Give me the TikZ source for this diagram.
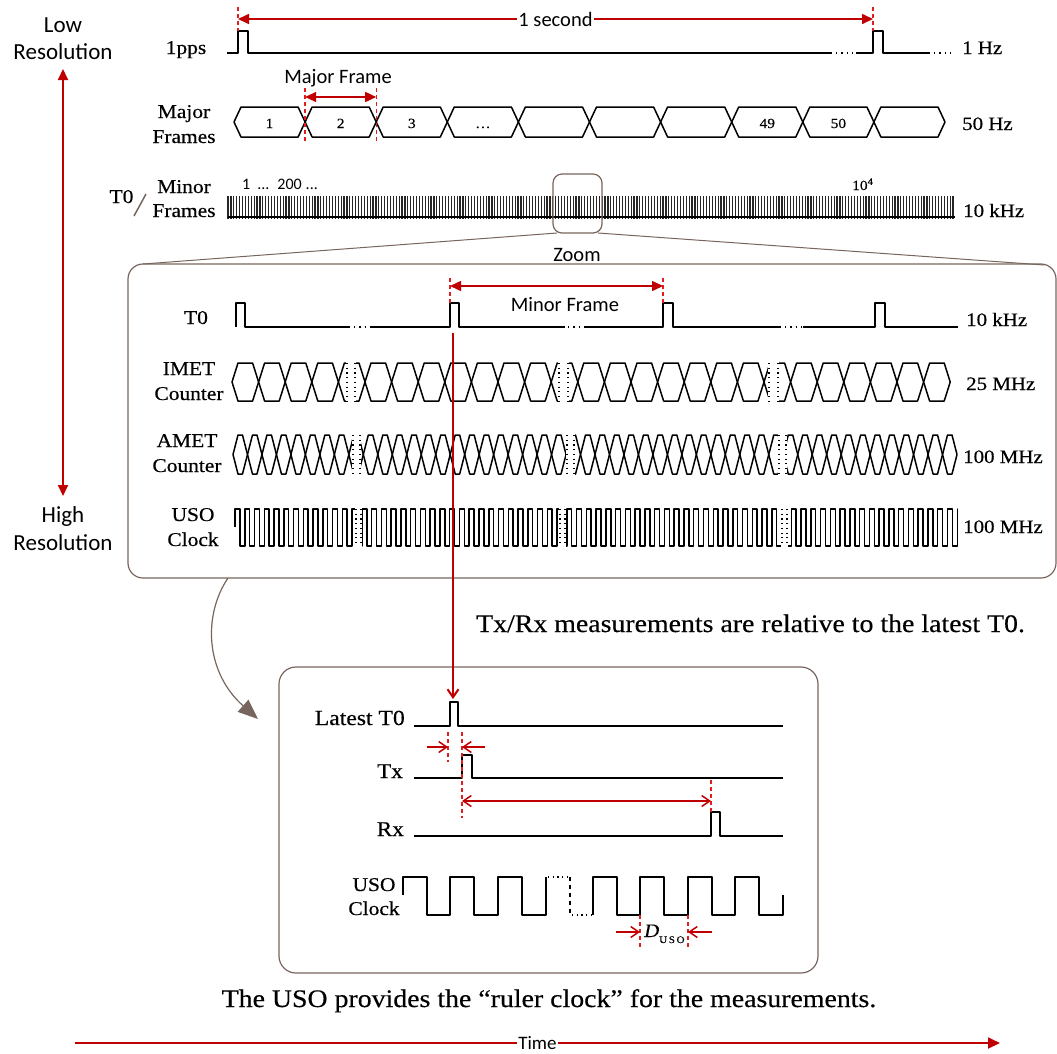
\documentclass[tikz,border=0pt]{standalone}
\usepackage{fontspec}
\setmainfont{Liberation Serif}[FakeStretch=1.1, FakeBold=0.4]
\newfontfamily\sansf{Carlito}
\usetikzlibrary{arrows.meta}
\definecolor{myred}{RGB}{192,0,0}
\definecolor{dred}{RGB}{225,30,30}
\definecolor{brn}{RGB}{120,102,94}
\newcommand{\hexchain}[6]{%
  \pgfmathsetmacro\hmid{(#4+#5)/2}%
  \foreach \i in {1,...,#3}{%
    \pgfmathsetmacro\xa{#1+(\i-1)*#2}%
    \pgfmathsetmacro\xb{#1+\i*#2}%
    \draw[sig] (\xa,\hmid) -- (\xa+#6,#4) -- (\xb-#6,#4) -- (\xb,\hmid) -- (\xb-#6,#5) -- (\xa+#6,#5) -- cycle;
  }}
\newcommand{\gapmark}[4]{%
  \fill[white] (#1,#3-3) rectangle (#2,#4+3);
  \draw[brk] (#1+1,#3) -- (#1+1,#4);
  \draw[brk] (#2-1,#3) -- (#2-1,#4);}
\begin{document}
\begin{tikzpicture}[x=1pt,y=-1pt,
  sig/.style={line width=1.5pt, line join=round},
  brk/.style={line width=1.2pt, dash pattern=on 1.2pt off 3.5pt},
  dots/.style={line width=1.3pt, dash pattern=on 1.3pt off 4pt},
  sansl/.style={font=\sansf\fontsize{23}{23}\selectfont, anchor=base, inner sep=0pt},
  sansm/.style={font=\sansf\fontsize{20.5}{20.5}\selectfont, anchor=base, inner sep=0pt},
  lbl/.style={font=\fontsize{19.5}{19.5}\selectfont, anchor=base, inner sep=0pt},
  frq/.style={font=\fontsize{19}{19}\selectfont, anchor=base west, inner sep=0pt},
  cell/.style={font=\fontsize{14}{14}\selectfont, anchor=base, inner sep=0pt},
  big/.style={font=\fontsize{25.3}{25.3}\selectfont, anchor=base, inner sep=0pt},
  redA/.style={draw=myred, line width=1.6pt, arrows={Triangle[length=11pt,width=10pt]-Triangle[length=11pt,width=10pt]}},
  redT/.style={draw=myred, line width=1.8pt, arrows={-Triangle[length=12pt,width=11pt]}},
  barb/.style={draw=myred, line width=1.5pt, arrows={-Straight Barb[length=8pt,width=11pt]}},
  barb2/.style={draw=myred, line width=1.5pt, arrows={Straight Barb[length=8pt,width=11pt]-Straight Barb[length=8pt,width=11pt]}},
  dsh/.style={draw=dred, line width=1.3pt, dash pattern=on 4pt off 3pt},
  frame/.style={draw=brn, line width=1.2pt}]
\useasboundingbox (0,0) rectangle (1057,1053);

% ---------- resolution axis ----------
\node[sansl] (lowA) at (63,32) {Low};
\node[sansl] (lowB) at (63,59) {Resolution};
\node[sansl] (highA) at (63,522) {High};
\node[sansl] (highB) at (63,550) {Resolution};
\coordinate (resTop) at (63,69);
\coordinate (resBot) at (63,496);
\draw[redA, line width=2pt] (resTop) -- (resBot);

% ---------- 1pps ----------
\node[lbl] (pps) at (186,54) {1pps};
\draw[sig] (227,53) -- (238,53) -- (238,31) -- (248,31) -- (248,53) -- (832,53);
\draw[dots] (836,53) -- (852,53);
\draw[sig] (856,53) -- (873,53) -- (873,31) -- (883,31) -- (883,53) -- (930,53);
\draw[dots] (934,53) -- (952,53);
\node[frq] (hz1) at (962,54) {1 Hz};
\coordinate (secL) at (238,19);
\coordinate (secR) at (873,19);
\draw[dsh] (238,7) -- (238,31);
\draw[dsh] (873,7) -- (873,31);
\draw[redA] (secL) -- (secR) node[pos=0.5, fill=white, inner sep=1pt, font=\sansf\fontsize{20.5}{20.5}\selectfont] (sec) {1 second};

% ---------- major frames ----------
\node[lbl] (majA) at (184,118) {Major};
\node[lbl] (majB) at (184,143) {Frames};
\hexchain{234}{71.1}{10}{107}{137}{7}
\node[cell] (c1) at (269.5,128) {1};
\node[cell] (c2) at (340.7,128) {2};
\node[cell] (c3) at (411.8,128) {3};
\node[cell] (c4) at (482.9,128) {\ldots};
\node[cell] (c49) at (767.3,128) {49};
\node[cell] (c50) at (838.4,128) {50};
\node[frq] (hz50) at (962,130) {50 Hz};
\draw[dsh] (305.1,88) -- (305.1,141);
\draw[dsh] (376.2,88) -- (376.2,141);
\coordinate (mfL) at (305.1,97);
\coordinate (mfR) at (376.2,97);
\draw[redA, line width=1.5pt] (mfL) -- (mfR);
\node[sansm] (mf) at (338,83) {Major Frame};

% ---------- minor frames ----------
\node[lbl] (t0a) at (121.5,203) {T0};
\draw[brn, line width=1.5pt] (134,216) -- (146,194);
\node[lbl] (minA) at (184,193) {Minor};
\node[lbl] (minB) at (184,217) {Frames};
\foreach \i in {0,...,250}{\draw[line width=1.2pt, black!85] ({228+2.9*\i},196) -- ({228+2.9*\i},219);}
\draw[line width=1.3pt] (228,217) -- (955,217);
\node[font=\sansf\fontsize{16}{16}\selectfont, anchor=base west, inner sep=0pt] (nums) at (242,189) {1\hspace{7pt}...\hspace{8pt}200\hspace{4pt}...};
\node[font=\fontsize{14}{14}\selectfont, anchor=base west, inner sep=0pt] (tenf) at (852,190) {10\textsuperscript{4}};
\node[frq] (khz) at (963,217) {10 kHz};
\draw[frame, rounded corners=9pt] (553,174) rectangle (602,233);

% ---------- zoom panel ----------
\coordinate (hlL) at (557,233);
\coordinate (hlR) at (598,233);
\coordinate (zpL) at (143,264);
\coordinate (zpR) at (1044,265);
\draw[brn, line width=1pt] (hlL) -- (zpL);
\draw[brn, line width=1pt] (hlR) -- (zpR);
\draw[frame, rounded corners=15pt] (128,264) rectangle (1056,578);
\node[sansm] (zoom) at (577,261) {Zoom};

% T0 zoomed
\node[lbl] (zt0) at (196,324) {T0};
\draw[sig] (236,327) -- (236,303) -- (245,303) -- (245,327) -- (350,327);
\draw[dots] (354,327) -- (368,327);
\draw[sig] (370,327) -- (450,327) -- (450,303) -- (459,303) -- (459,327) -- (565,327);
\draw[dots] (568,327) -- (582,327);
\draw[sig] (584,327) -- (663,327) -- (663,303) -- (673,303) -- (673,327) -- (781,327);
\draw[dots] (785,327) -- (801,327);
\draw[sig] (803,327) -- (875,327) -- (875,303) -- (885,303) -- (885,327) -- (958,327);
\node[frq] (khz2) at (966,326) {10 kHz};
\draw[dsh] (450,278) -- (450,303);
\draw[dsh] (663,278) -- (663,303);
\coordinate (mnL) at (450,286);
\coordinate (mnR) at (663,286);
\draw[redA, line width=1.5pt] (mnL) -- (mnR);
\node[sansm] (minorf) at (565,311) {Minor Frame};

% IMET
\node[lbl] (imA) at (189,375) {IMET};
\node[lbl] (imB) at (189,400) {Counter};
\hexchain{232}{26.6}{27}{363}{401}{6}
\gapmark{346}{356}{363}{401}
\gapmark{558}{569}{363}{401}
\gapmark{768}{779}{363}{401}
\node[frq] (mhz25) at (966,390) {25 MHz};

% AMET
\node[lbl] (amA) at (187,447) {AMET};
\node[lbl] (amB) at (187,472) {Counter};
\hexchain{233}{14.48}{50}{435}{474}{5}
\gapmark{352}{361}{435}{474}
\gapmark{566}{575}{435}{474}
\gapmark{778}{787}{435}{474}
\node[frq] (mhzA) at (963,463) {100 MHz};

% USO zoomed
\node[lbl] (usA) at (193,521) {USO};
\node[lbl] (usB) at (193,546) {Clock};
\draw[sig] (235,527) -- (235,509) \foreach \i in {1,...,74}{ -- ++(4.88,0) -- ++(0,37) -- ++(4.88,0) -- ++(0,-37)} -- ++(0,18);
\gapmark{355}{362}{509}{546}
\gapmark{559}{566}{509}{546}
\gapmark{781}{788}{509}{546}
\node[frq] (mhzB) at (963,533) {100 MHz};

% ---------- curved arrow and note ----------
\coordinate (cvA) at (228,578);
\coordinate (cvB) at (258,719);
\draw[brn, line width=1.2pt, arrows={-Triangle[length=20pt,width=16pt]}] (cvA) .. controls (203,615) and (205,672) .. (cvB);
\node[big, anchor=base west] (note1) at (476,632) {Tx/Rx measurements are relative to the latest T0.};

% ---------- bottom panel ----------
\draw[frame, rounded corners=17pt] (279,667) rectangle (818,973);
\node[font=\fontsize{21.5}{21.5}\selectfont, anchor=base east, inner sep=0pt] (latest) at (405,725) {Latest T0};
\draw[sig] (414,726) -- (450,726) -- (450,702) -- (458,702) -- (458,726) -- (783,726);
\node[font=\fontsize{21}{21}\selectfont, anchor=base east, inner sep=0pt] (tx) at (403,778) {Tx};
\draw[sig] (414,778) -- (462,778) -- (462,755) -- (472,755) -- (472,778) -- (783,778);
\node[font=\fontsize{21}{21}\selectfont, anchor=base east, inner sep=0pt] (rx) at (404,836) {Rx};
\draw[sig] (414,836) -- (711,836) -- (711,812) -- (720,812) -- (720,836) -- (783,836);
\node[lbl] (usC) at (374,891) {USO};
\node[lbl] (clC) at (374,915) {Clock};
\draw[sig] (403,895) -- (403,877) -- (427,877) -- (427,915) -- (450,915) -- (450,877) -- (474,877) -- (474,915) -- (498,915) -- (498,877) -- (522,877) -- (522,915) -- (546,915) -- (546,877);
\draw[brk] (548,877) -- (568,877);
\draw[line width=1.3pt, dash pattern=on 4pt off 4pt] (570,877) -- (570,915);
\draw[brk] (572,915) -- (592,915);
\draw[sig] (593,915) -- (593,877) -- (617,877) -- (617,915) -- (640,915) -- (640,877) -- (664,877) -- (664,915) -- (688,915) -- (688,877) -- (712,877) -- (712,915) -- (735,915) -- (735,877) -- (759,877) -- (759,915) -- (783,915) -- (783,895);

% T0 link line
\coordinate (t0src) at (453,333);
\coordinate (t0dst) at (453,699);
\draw[barb, line width=2pt] (t0src) -- (t0dst);

% offsets
\draw[dsh] (448,732) -- (448,762);
\draw[dsh] (462,732) -- (462,818);
\coordinate (oa) at (427,747);
\coordinate (ob) at (448,747);
\coordinate (oc) at (485,747);
\coordinate (od) at (462,747);
\draw[barb] (oa) -- (ob);
\draw[barb] (oc) -- (od);
\draw[dsh] (711,780) -- (711,812);
\coordinate (rtA) at (462,801);
\coordinate (rtB) at (711,801);
\draw[barb2] (rtA) -- (rtB);

% D_USO
\draw[dsh] (640,915) -- (640,948);
\draw[dsh] (688,915) -- (688,948);
\coordinate (da) at (616,932);
\coordinate (db) at (640,932);
\coordinate (dc) at (712,932);
\coordinate (dd) at (688,932);
\draw[barb] (da) -- (db);
\draw[barb] (dc) -- (dd);
\node[font=\fontsize{19}{19}\selectfont\itshape, anchor=base west, inner sep=0pt] (dus) at (644,937) {D};
\node[font=\fontsize{10}{10}\selectfont, anchor=base west, inner sep=0pt] (dsub) at (659,943) {U\,S\,O};

\node[big] (note2) at (549,1007) {The USO provides the “ruler clock” for the measurements.};

% ---------- time axis ----------
\coordinate (tmL) at (75,1043);
\coordinate (tmR) at (1000,1043);
\draw[redT] (tmL) -- (tmR) node[pos=0.5, fill=white, inner sep=1pt, font=\sansf\fontsize{19}{19}\selectfont] (time) {Time};
\end{tikzpicture}
\end{document}
